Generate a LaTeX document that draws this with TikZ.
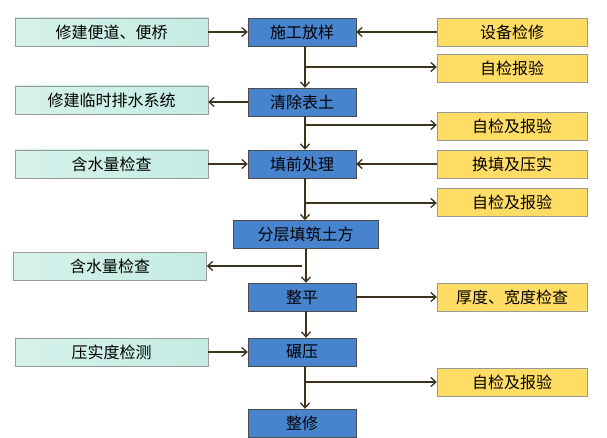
\documentclass[tikz,border=0pt]{standalone}
\usepackage{fontspec}
\setmainfont{Noto Sans CJK SC}
\usetikzlibrary{arrows.meta}
\definecolor{stepblue}{RGB}{72,132,206}
\definecolor{checkgreen}{RGB}{196,236,226}
\definecolor{checkyellow}{RGB}{255,220,100}
\definecolor{flowline}{RGB}{60,50,30}
\tikzset{
  task/.style={draw=black!70, fill=stepblue, minimum width=108pt, minimum height=28pt, inner sep=0pt, font=\fontsize{16}{16}\selectfont},
  side/.style={draw=black!40, left color=checkgreen!70, right color=checkgreen, minimum width=193pt, minimum height=28pt, inner sep=0pt, font=\fontsize{16}{16}\selectfont},
  check/.style={draw=black!40, fill=checkyellow, minimum width=150pt, minimum height=28pt, inner sep=0pt, font=\fontsize{16}{16}\selectfont},
  flow/.style={draw=flowline, line width=1.3pt, -{Straight Barb[length=5pt,width=9pt]}}
}
\begin{document}
\begin{tikzpicture}[x=1pt, y=-1pt]
\useasboundingbox (0,0) rectangle (607,438);

% main column
\node[task] (s1) at (302,32) {施工放样};
\node[task] (s2) at (302,102) {清除表土};
\node[task] (s3) at (302,164) {填前处理};
\node[task, minimum width=145pt] (s4) at (305.5,234.5) {分层填筑土方};
\node[task] (s5) at (302,297) {整平};
\node[task] (s6) at (302,352) {碾压};
\node[task] (s7) at (302,423) {整修};

% left side
\node[side] (l1) at (111.5,32) {修建便道、便桥};
\node[side] (l2) at (111.5,100) {修建临时排水系统};
\node[side] (l3) at (111.5,164) {含水量检查};
\node[side] (l4) at (110,266) {含水量检查};
\node[side] (l5) at (111.5,352) {压实度检测};

% right side
\node[check] (r1) at (512,32) {设备检修};
\node[check] (r2) at (512,68.5) {自检报验};
\node[check] (r3) at (512,126) {自检及报验};
\node[check] (r4) at (512,164) {换填及压实};
\node[check] (r5) at (512,202) {自检及报验};
\node[check] (r6) at (512,297) {厚度、宽度检查};
\node[check] (r7) at (512,382) {自检及报验};

% branch points
\coordinate (b1) at (305,67);
\coordinate (b2) at (305,125);
\coordinate (b3) at (305,203);
\coordinate (b4) at (302,266);
\coordinate (b5) at (305,382);
\coordinate (c1) at (306,0);

% down the column
\draw[flow] (s1.south -| b1) -- (s2.north -| b1);
\draw[flow] (s2.south -| b2) -- (s3.north -| b2);
\draw[flow] (s3.south -| b3) -- (s4.north -| b3);
\draw[flow] (s4.south -| c1) -- (s5.north -| c1);
\draw[flow] (s5.south -| c1) -- (s6.north -| c1);
\draw[flow] (s6.south -| b5) -- (s7.north -| b5);

% into the column
\draw[flow] (l1) -- (s1);
\draw[flow] (r1) -- (s1);
\draw[flow] (l3) -- (s3);
\draw[flow] (r4) -- (s3);
\draw[flow] (l5) -- (s6);

% out of the column
\draw[flow] (s2) -- (l2.east |- s2);
\draw[flow] (s5) -- (r6);
\draw[flow] (b1) -- (r2.west |- b1);
\draw[flow] (b2) -- (r3.west |- b2);
\draw[flow] (b3) -- (r5.west |- b3);
\draw[flow] (b4) -- (l4.east |- b4);
\draw[flow] (b5) -- (r7.west |- b5);
\end{tikzpicture}
\end{document}
